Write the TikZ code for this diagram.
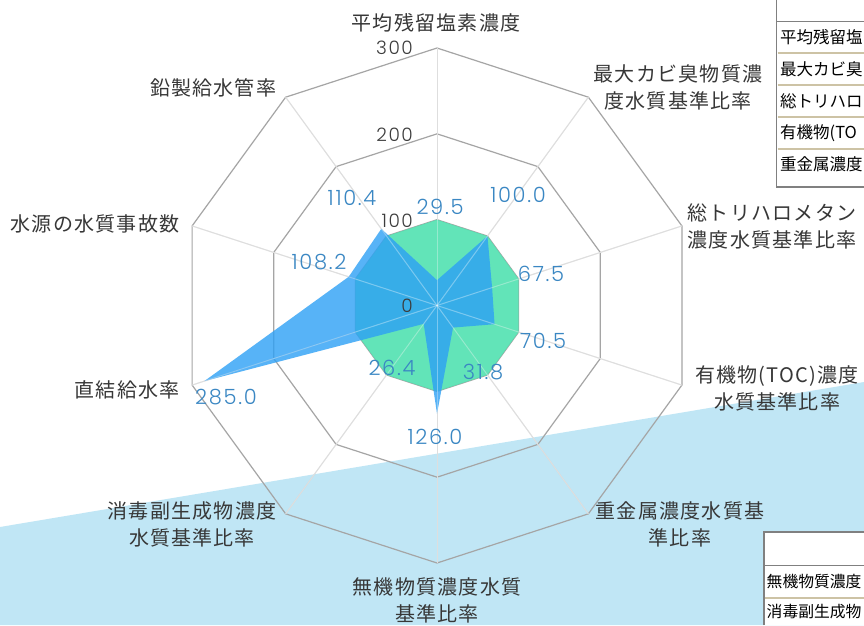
\documentclass[tikz,border=0pt]{standalone}
\usepackage{fontspec}
\newfontfamily\jpfont{Noto Sans CJK JP}[LetterSpace=6]
\newfontfamily\tabfont{Noto Sans CJK JP}
\newfontfamily\numfont{Poppins}[UprightFont={* Light}, LetterSpace=8]
\definecolor{bgblue}{RGB}{192,230,245}
\definecolor{gridring}{RGB}{165,165,165}
\definecolor{gridspoke}{RGB}{205,205,205}
\definecolor{sergreen}{RGB}{85,226,178}
\definecolor{serblue}{RGB}{45,160,245}
\definecolor{vallab}{RGB}{58,135,195}
\definecolor{axlab}{RGB}{55,55,55}
\definecolor{scalelab}{RGB}{60,60,60}
\definecolor{tabline}{RGB}{128,128,128}
\definecolor{tabtan}{RGB}{205,195,165}
\tikzset{
  ring/.style={draw=gridring, line width=1.2pt},
  spoke/.style={draw=gridspoke, line width=1pt},
  axislabel/.style={font=\jpfont\fontsize{20}{27}\selectfont, text=axlab, align=center, inner sep=0pt},
  vlabel/.style={font=\numfont\fontsize{21}{21}\selectfont, text=vallab, inner sep=0pt},
  slabel/.style={font=\numfont\fontsize{18.5}{18.5}\selectfont, text=scalelab, inner sep=0pt, anchor=east},
  tabtext/.style={font=\tabfont\fontsize{16.5}{17}\selectfont, anchor=west, inner sep=0pt},
  tabtextb/.style={font=\tabfont\fontsize{15.8}{17}\selectfont, anchor=west, inner sep=0pt},
  tabborder/.style={draw=tabline, line width=1.6pt},
  tabhead/.style={draw=tabline, line width=1pt},
  tabsep/.style={draw=tabtan, line width=1.8pt}
}
\begin{document}
\begin{tikzpicture}[x=1pt,y=-1pt]
\useasboundingbox (0,0) rectangle (864,625);
\fill[white] (0,0) rectangle (864,625);
% light blue background band
\fill[bgblue] (0,527) -- (864,382) -- (864,625) -- (0,625) -- cycle;

\coordinate (c) at (437,305.5);
\foreach \a [count=\i from 0] in {0,36,...,324}
  \coordinate (o\i) at ({437+257.5*sin(\a)},{305.5-257.5*cos(\a)});

% grid rings
\foreach \r in {85.83,171.67,257.5}
  \draw[ring] ({437},{305.5-\r}) \foreach \a in {36,72,...,324} { -- ({437+\r*sin(\a)},{305.5-\r*cos(\a)}) } -- cycle;
% spokes
\foreach \i in {0,...,9} \draw[spoke] (c) -- (o\i);

% green series (all 100)
\fill[sergreen, opacity=0.92] ({437},{305.5-85.83}) \foreach \a in {36,72,...,324} { -- ({437+85.83*sin(\a)},{305.5-85.83*cos(\a)}) } -- cycle;

% blue series
\foreach \a/\v [count=\i from 0] in {0/29.5,36/100,72/67.5,108/70.5,144/31.8,180/126,216/26.4,252/285,288/108.2,324/110.4}
  \coordinate (b\i) at ({437+\v*0.8583*sin(\a)},{305.5-\v*0.8583*cos(\a)});
\fill[serblue, opacity=0.8] (b0) -- (b1) -- (b2) -- (b3) -- (b4) -- (b5) -- (b6) -- (b7) -- (b8) -- (b9) -- cycle;

% light spokes over fills
\foreach \i in {0,...,9} \draw[white, opacity=0.35, line width=1pt] (c) -- (o\i);

% scale labels
\node[slabel] (s0) at (413,306) {0};
\node[slabel] (s100) at (413,220.5) {100};
\node[slabel] (s200) at (413,134.5) {200};
\node[slabel] (s300) at (413,48) {300};

% value labels
\node[vlabel] (v0) at (440,207) {29.5};
\node[vlabel] (v1) at (518,195) {100.0};
\node[vlabel] (v2) at (541,274) {67.5};
\node[vlabel] (v3) at (543,341) {70.5};
\node[vlabel] (v4) at (483,372) {31.8};
\node[vlabel] (v5) at (435,437) {126.0};
\node[vlabel] (v6) at (392,368) {26.4};
\node[vlabel] (v7) at (226,397) {285.0};
\node[vlabel] (v8) at (319,262) {108.2};
\node[vlabel] (v9) at (352,198) {110.4};

% axis labels
\node[axislabel] (a0) at (436,23) {平均残留塩素濃度};
\node[axislabel] (a1) at (678,87) {最大カビ臭物質濃\\度水質基準比率};
\node[axislabel] (a2) at (772,226.5) {総トリハロメタン\\濃度水質基準比率};
\node[axislabel] (a3) at (777,388.5) {有機物(TOC)濃度\\水質基準比率};
\node[axislabel] (a4) at (680,524) {重金属濃度水質基\\準比率};
\node[axislabel] (a5) at (437,600) {無機物質濃度水質\\基準比率};
\node[axislabel] (a6) at (192,524.5) {消毒副生成物濃度\\水質基準比率};
\node[axislabel] (a7) at (127,390) {直結給水率};
\node[axislabel] (a8) at (95,224) {水源の水質事故数};
\node[axislabel] (a9) at (213,88) {鉛製給水管率};

% top-right table
\fill[white] (776.5,0) rectangle (864,187);
\draw[tabhead] (776.5,21) -- (864,21);
\foreach \y in {53,85,117,149} \draw[tabsep] (777.5,\y) -- (864,\y);
\draw[tabborder] (776.5,0) -- (776.5,187) -- (864,187);
\node[tabtext] (t1) at (780,37) {平均残留塩};
\node[tabtext] (t2) at (780,69) {最大カビ臭};
\node[tabtext] (t3) at (780,101) {総トリハロ};
\node[tabtext] (t4) at (780,133) {有機物(TO};
\node[tabtext] (t5) at (780,164) {重金属濃度};

% bottom-right table
\fill[white] (764,532) rectangle (864,625);
\draw[tabhead] (764,565) -- (864,565);
\draw[tabsep] (765,598) -- (864,598);
\draw[tabborder] (764,625) -- (764,532) -- (864,532);
\node[tabtextb] (u1) at (766.5,581) {無機物質濃度};
\node[tabtextb] (u2) at (766.5,612) {消毒副生成物};
\end{tikzpicture}
\end{document}
